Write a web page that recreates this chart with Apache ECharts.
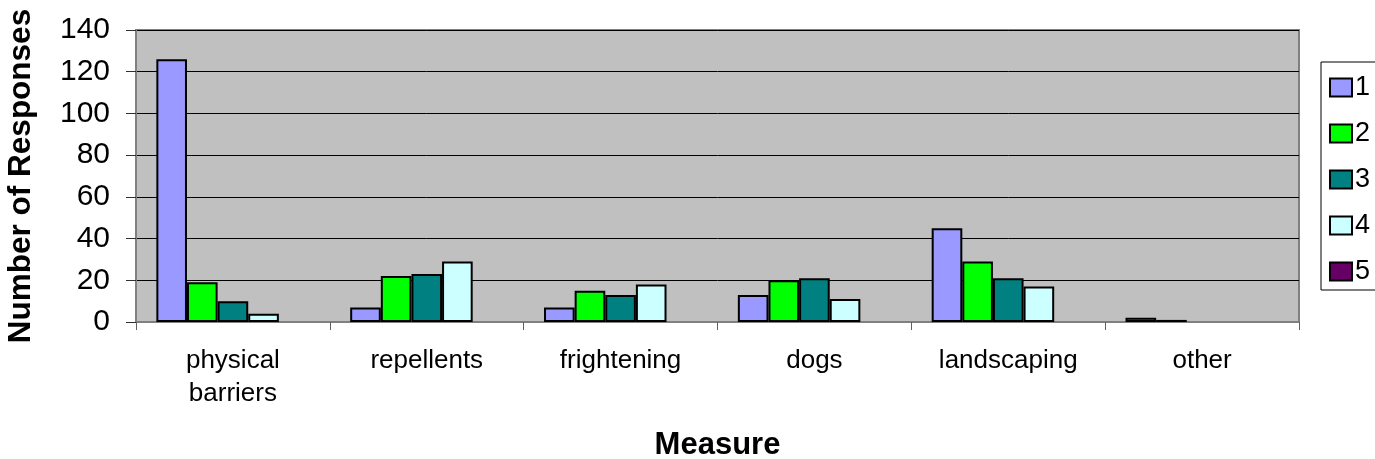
<!DOCTYPE html>
<html>
<head>
<meta charset="utf-8">
<script src="https://cdn.jsdelivr.net/npm/echarts@6/dist/echarts.min.js"></script>
<style>
  html, body { margin: 0; padding: 0; background: #fff; }
  #chart { width: 1375px; height: 459px; }
</style>
</head>
<body>
<div id="chart"></div>
<script>
// Responses per control measure, one series per rank (1-5)
const categories = ['physical\nbarriers', 'repellents', 'frightening', 'dogs', 'landscaping', 'other'];
const seriesNames = ['1', '2', '3', '4', '5'];
const rank1 = [126, 7, 7, 13, 45, 2];
const rank2 = [19, 22, 15, 20, 29, 1];
const rank3 = [10, 23, 13, 21, 21, 0];
const rank4 = [4, 29, 18, 11, 17, 0];
const rank5 = [0, 0, 0, 0, 0, 0];
const yTicks = [0, 20, 40, 60, 80, 100, 120, 140];

const colors = ['#9999FF', '#00FF00', '#008080', '#CCFFFF', '#660066'];
const allSeries = [rank1, rank2, rank3, rank4, rank5];
const FONT = '"Liberation Sans", Arial, sans-serif';

const chart = echarts.init(document.getElementById('chart'), null, { renderer: 'canvas' });

chart.setOption({
  animation: false,
  backgroundColor: '#ffffff',
  textStyle: { fontFamily: FONT, color: '#000' },
  grid: {
    left: 136, right: 76, top: 30, bottom: 137,
    containLabel: false,
    outerBoundsMode: 'none',
    show: true,
    backgroundColor: '#C0C0C0',
    borderColor: '#808080',
    borderWidth: 2
  },
  graphic: [{
    type: 'rect',
    z: 10,
    shape: { x: 1321, y: 62, width: 100, height: 228 },
    style: { fill: '#ffffff', stroke: '#000000', lineWidth: 1 }
  }],
  legend: {
    z: 20,
    orient: 'vertical',
    left: 1329,
    top: 74,
    padding: 0,
    itemWidth: 22,
    itemHeight: 18,
    itemGap: 19,
    icon: 'rect',
    data: seriesNames,
    itemStyle: { borderColor: '#000', borderWidth: 2 },
    textStyle: { fontFamily: FONT, fontSize: 27, lineHeight: 26, color: '#000', padding: [0, 0, 0, -2] }
  },
  xAxis: {
    type: 'category',
    data: categories,
    name: 'Measure',
    nameLocation: 'middle',
    nameGap: 108,
    nameTextStyle: { fontFamily: FONT, fontSize: 31, fontWeight: 'bold', color: '#000' },
    axisLine: { show: true, lineStyle: { color: '#808080', width: 2 } },
    axisTick: { show: true, alignWithLabel: false, length: 8, lineStyle: { color: '#606060', width: 1 } },
    axisLabel: { fontFamily: FONT, fontSize: 26, lineHeight: 33, color: '#000', margin: 22, interval: 0 },
    splitLine: { show: false }
  },
  yAxis: {
    type: 'value',
    min: 0,
    max: 140,
    interval: 20,
    name: 'Number of Responses',
    nameLocation: 'middle',
    nameGap: 99,
    nameRotate: 90,
    nameTextStyle: { fontFamily: FONT, fontSize: 31.5, fontWeight: 'bold', color: '#000' },
    axisLine: { show: true, lineStyle: { color: '#808080', width: 2 } },
    axisTick: { show: true, inside: false, length: 10, lineStyle: { color: '#303030', width: 1 } },
    axisLabel: {
      fontFamily: FONT, fontSize: 30, color: '#000', margin: 26,
      formatter: v => (yTicks.indexOf(v) >= 0 ? String(v) : '')
    },
    splitLine: { show: true, lineStyle: { color: '#000000', width: 1 } }
  },
  series: allSeries.map((vals, i) => ({
    name: seriesNames[i],
    type: 'bar',
    barGap: '0%',
    barCategoryGap: '21%',
    // zero responses leave no visible mark
    data: vals.map(v => (v === 0 ? '-' : v)),
    itemStyle: { color: colors[i], borderColor: '#000', borderWidth: 2 }
  }))
});
</script>
</body>
</html>
